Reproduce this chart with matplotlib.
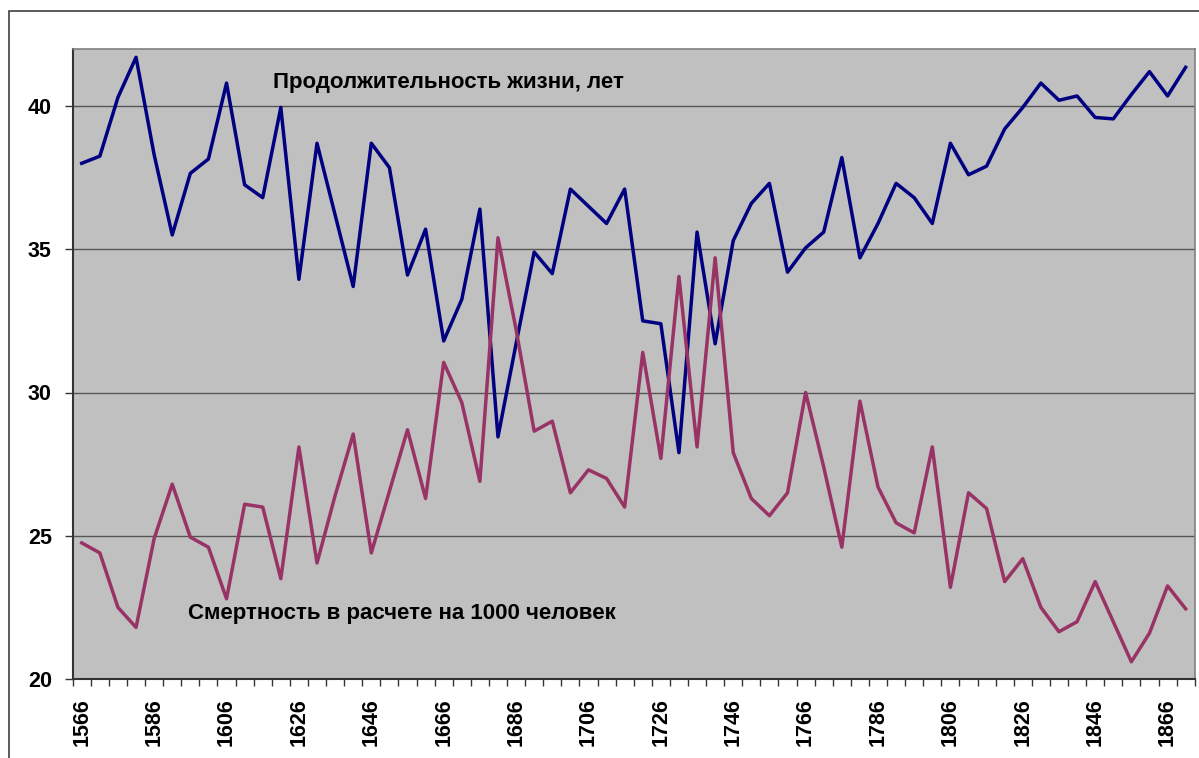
import matplotlib
matplotlib.use('Agg')
import matplotlib.pyplot as plt
from matplotlib.patches import Rectangle

# годы (шаг 5 лет)
years = [1566, 1571, 1576, 1581, 1586, 1591, 1596, 1601, 1606, 1611,
         1616, 1621, 1626, 1631, 1636, 1641, 1646, 1651, 1656, 1661,
         1666, 1671, 1676, 1681, 1686, 1691, 1696, 1701, 1706, 1711,
         1716, 1721, 1726, 1731, 1736, 1741, 1746, 1751, 1756, 1761,
         1766, 1771, 1776, 1781, 1786, 1791, 1796, 1801, 1806, 1811,
         1816, 1821, 1826, 1831, 1836, 1841, 1846, 1851, 1856, 1861,
         1866, 1871]

# продолжительность жизни, лет
life = [38.0, 38.25, 40.3, 41.7, 38.3, 35.5, 37.65, 38.15, 40.8, 37.25,
        36.8, 39.95, 33.95, 38.7, 36.2, 33.7, 38.7, 37.85, 34.1, 35.7,
        31.8, 33.25, 36.4, 28.45, 31.7, 34.9, 34.15, 37.1, 36.5, 35.9,
        37.1, 32.5, 32.4, 27.9, 35.6, 31.7, 35.3, 36.6, 37.3, 34.2,
        35.05, 35.6, 38.2, 34.7, 35.9, 37.3, 36.8, 35.9, 38.7, 37.6,
        37.9, 39.2, 39.95, 40.8, 40.2, 40.35, 39.6, 39.55, 40.4, 41.2,
        40.35, 41.35]

# смертность на 1000 человек
mortality = [24.75, 24.4, 22.5, 21.8, 24.9, 26.8, 24.95, 24.6, 22.8, 26.1,
             26.0, 23.5, 28.1, 24.05, 26.4, 28.55, 24.4, 26.55, 28.7, 26.3,
             31.05, 29.65, 26.9, 35.4, 32.2, 28.65, 29.0, 26.5, 27.3, 27.0,
             26.0, 31.4, 27.7, 34.05, 28.1, 34.7, 27.9, 26.3, 25.7, 26.5,
             30.0, 27.4, 24.6, 29.7, 26.7, 25.45, 25.1, 28.1, 23.2, 26.5,
             25.95, 23.4, 24.2, 22.5, 21.65, 22.0, 23.4, 22.0, 20.6, 21.6,
             23.25, 22.45]

yticks = [20, 25, 30, 35, 40]

plt.rcParams['font.family'] = ['Liberation Sans', 'DejaVu Sans']

fig = plt.figure(figsize=(11.99, 7.58), dpi=100)
# рамка области диаграммы
fig.patches.append(Rectangle((9 / 1199, -0.05), 1.2, 1.05 - 11 / 758,
                             transform=fig.transFigure, fill=False,
                             edgecolor='#404040', linewidth=1.2))

ax = fig.add_axes([72.7 / 1199, 1 - 679 / 758, 1122 / 1199, 630.3 / 758])
ax.set_facecolor('#C0C0C0')

x = list(range(len(years)))
ax.plot(x, life, color='#000080', linewidth=2.5, zorder=3)
ax.plot(x, mortality, color='#993366', linewidth=2.5, zorder=4)

ax.set_xlim(-0.5, len(years) - 0.5)
ax.set_ylim(20, 42)

ax.set_yticks(yticks)
ax.set_yticklabels([str(v) for v in yticks], fontsize=15.5, fontweight='bold')
ax.yaxis.grid(True, color='#555555', linewidth=1.0)
ax.set_axisbelow(True)
ax.tick_params(axis='y', length=6, width=1, color='#333333', pad=9)

# подписи каждые 20 лет, засечки на границах категорий
label_pos = x[::4]
ax.set_xticks(label_pos)
ax.set_xticklabels([str(years[i]) for i in label_pos], rotation=90,
                   fontsize=15.5, fontweight='bold')
ax.tick_params(axis='x', length=0, pad=14)
ax.set_xticks([i - 0.5 for i in range(len(years) + 1)], minor=True)
ax.tick_params(axis='x', which='minor', length=5, width=1, color='#333333')

for side in ['top', 'right']:
    ax.spines[side].set_color('#808080')
    ax.spines[side].set_linewidth(1.2)
for side in ['left', 'bottom']:
    ax.spines[side].set_color('#333333')
    ax.spines[side].set_linewidth(1.5)

ax.text(0.1785, 0.9456, 'Продолжительность жизни, лет', transform=ax.transAxes,
        fontsize=16, fontweight='bold', va='center', ha='left')
ax.text(0.1025, 0.1047, 'Смертность в расчете на 1000 человек', transform=ax.transAxes,
        fontsize=16, fontweight='bold', va='center', ha='left')

fig.savefig('out.png', dpi=100)
